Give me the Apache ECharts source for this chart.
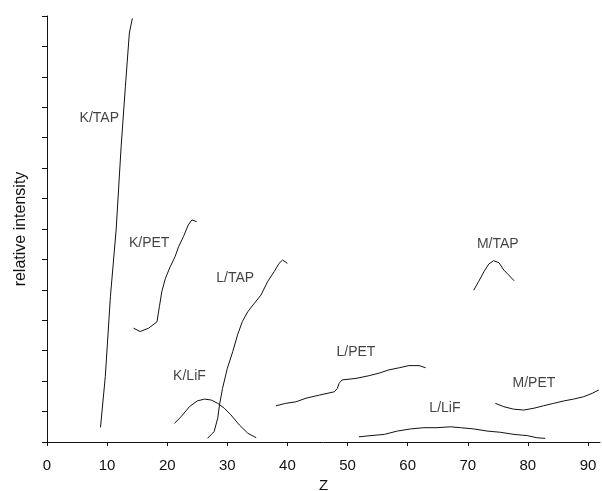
<!DOCTYPE html>
<html>
<head>
<meta charset="utf-8">
<script src="https://cdn.jsdelivr.net/npm/echarts@6/dist/echarts.min.js"></script>
<style>
  html, body { margin: 0; padding: 0; background: #fff; }
  #chart { width: 602px; height: 491px; }
</style>
</head>
<body>
<div id="chart"></div>
<script>
// curves: [Z, relative intensity]
const kTap = [[8.9, 0.48], [9.7, 2.15], [10.55, 4.78], [11.5, 6.97], [12.33, 9.7], [13.04, 11.68], [13.7, 13.44], [14.2, 13.92]];
const kPet = [[14.4, 3.74], [15.5, 3.63], [16.9, 3.74], [18.3, 3.95], [18.7, 4.45], [19.1, 4.94], [19.7, 5.38], [20.5, 5.76], [21.3, 6.09], [21.9, 6.42], [22.7, 6.75], [23.5, 7.13], [24.1, 7.3], [24.9, 7.24]];
const lTap = [[26.7, 0.12], [27.8, 0.34], [28.4, 0.78], [28.7, 1.22], [29.2, 1.76], [30.0, 2.42], [30.9, 2.97], [31.7, 3.52], [32.5, 3.96], [33.4, 4.28], [34.5, 4.56], [35.6, 4.83], [36.7, 5.27], [37.8, 5.6], [38.6, 5.87], [39.2, 5.98], [40.0, 5.87]];
const kLif = [[21.2, 0.61], [22.3, 0.83], [23.7, 1.16], [25.0, 1.35], [26.2, 1.41], [27.3, 1.38], [28.4, 1.27], [29.5, 1.11], [30.6, 0.89], [32.0, 0.56], [33.4, 0.29], [34.8, 0.14]];
const lPet = [[38.1, 1.19], [39.7, 1.27], [41.4, 1.32], [43.1, 1.44], [45.3, 1.54], [47.8, 1.65], [48.3, 1.76], [48.6, 1.93], [49.1, 2.04], [51.4, 2.09], [53.6, 2.18], [55.2, 2.26], [56.9, 2.37], [58.6, 2.44], [60.2, 2.51], [61.9, 2.51], [63.0, 2.44]];
const lLif = [[51.9, 0.17], [53.9, 0.21], [56.1, 0.25], [58.3, 0.36], [60.5, 0.43], [62.7, 0.47], [64.9, 0.47], [67.1, 0.5], [68.8, 0.47], [71.0, 0.43], [73.2, 0.36], [75.4, 0.32], [77.7, 0.25], [79.9, 0.21], [81.5, 0.14], [82.9, 0.12]];
const mTap = [[71.0, 4.99], [71.8, 5.27], [72.7, 5.6], [73.5, 5.85], [74.3, 5.96], [75.2, 5.89], [76.0, 5.65], [76.8, 5.49], [77.7, 5.3]];
const mPet = [[74.6, 1.27], [76.0, 1.16], [77.6, 1.08], [79.3, 1.05], [81.0, 1.11], [82.6, 1.19], [84.3, 1.27], [86.0, 1.35], [87.6, 1.41], [89.3, 1.49], [90.7, 1.6], [91.8, 1.71]];

// curve names and where their text sits
const labelNames = ['K/TAP', 'K/PET', 'L/TAP', 'K/LiF', 'L/PET', 'L/LiF', 'M/TAP', 'M/PET'];
const labelPos = [[8.7, 10.65], [17.0, 6.54], [31.3, 5.39], [23.7, 2.17], [51.4, 2.96], [66.2, 1.12], [75.0, 6.51], [81.0, 1.94]];

const xTicks = [0, 10, 20, 30, 40, 50, 60, 70, 80, 90];

const font = 'Liberation Sans, Arial, sans-serif';
const curves = [kTap, kPet, lTap, kLif, lPet, lLif, mTap, mPet];

const chart = echarts.init(document.getElementById('chart'));

const series = curves.map((d, i) => ({
    type: 'line',
    name: labelNames[i],
    data: d,
    showSymbol: false,
    symbol: 'none',
    lineStyle: { color: '#111', width: 1 },
    silent: true
}));

series.push({
    type: 'scatter',
    symbolSize: 0,
    data: labelPos.map((p, i) => ({ name: labelNames[i], value: p })),
    label: {
        show: true,
        position: 'inside',
        formatter: '{b}',
        color: '#111',
        fontSize: 14,
        fontFamily: font
    },
    silent: true
});

chart.setOption({
    animation: false,
    grid: { left: 47, right: 2, top: 16, bottom: 49, outerBoundsMode: 'none' },
    xAxis: {
        type: 'value',
        min: 0,
        max: 92,
        interval: 10,
        name: 'Z',
        nameLocation: 'middle',
        nameGap: 35,
        nameTextStyle: { color: '#111', fontSize: 15, fontFamily: font },
        axisLine: { lineStyle: { color: '#111', width: 1 } },
        axisTick: { length: 4, customValues: xTicks, lineStyle: { color: '#111' } },
        axisLabel: { customValues: xTicks, margin: 16, color: '#111', fontSize: 15, fontFamily: font },
        splitLine: { show: false }
    },
    yAxis: {
        type: 'value',
        min: 0,
        max: 14,
        interval: 1,
        name: 'relative intensity',
        nameLocation: 'middle',
        nameGap: 18,
        nameTextStyle: { color: '#111', fontSize: 16, fontFamily: font },
        axisLine: { show: true, lineStyle: { color: '#111', width: 1 } },
        axisTick: { show: true, length: 5, lineStyle: { color: '#111' } },
        axisLabel: { show: false },
        splitLine: { show: false }
    },
    series: series
});
</script>
</body>
</html>
